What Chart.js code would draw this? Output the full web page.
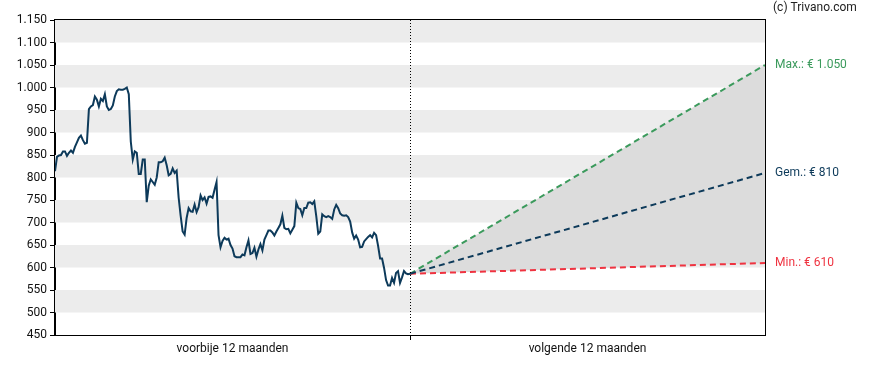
<!DOCTYPE html>
<html><head><meta charset="utf-8">
<script src="https://cdn.jsdelivr.net/npm/chart.js@4/dist/chart.umd.min.js"></script>
<style>html,body{margin:0;padding:0;background:#fff}#wrap{width:888px;height:370px}</style>
</head><body><div id="wrap"><canvas id="c"></canvas></div>
<script>
// Historical prices (past 12 months), evenly spaced
const histValues = [
814,846,849,850,858,858,848,855,860,855,868,878,888,893,883,875,877,952,958,961,
980,973,958,975,970,985,958,950,952,960,980,992,996,995,995,997,1000,985,880,840,
858,855,808,808,840,840,745,782,796,790,784,800,834,834,836,844,827,805,808,820,
810,815,755,715,680,673,710,732,725,724,740,723,734,760,750,756,742,757,758,755,
773,790,672,645,659,666,662,664,650,642,625,623,623,623,629,627,645,660,630,632,
644,624,640,652,638,662,672,682,682,678,671,680,688,696,715,688,685,686,676,684,
692,744,732,730,716,732,732,744,745,741,747,714,675,680,718,714,712,714,712,708,
729,739,732,720,716,715,716,712,702,678,664,671,662,645,646,658,663,668,672,667,
677,672,648,620,620,599,572,560,560,577,566,588,592,566,578,592,587,585,586
];
// Forecast (next 12 months): start, end
const forecastMax = [586, 1050];
const forecastAvg = [586, 810];
const forecastMin = [586, 610];
const forecastLabels = ['Max.: € 1.050', 'Gem.: € 810', 'Min.: € 610'];
const xTickLabels = ['voorbije 12 maanden', '', 'volgende 12 maanden'];
const yMin = 450, yMax = 1150, yStep = 50;
const bandStarts = [500, 600, 700, 800, 900, 1000, 1100];
const bandWidth = 50;
const copyright = '(c) Trivano.com';

const NAVY = '#0d3a5a', GREEN = '#3b9a5c', RED = '#ef3340';
const FONT = 'Roboto, "Liberation Sans", Arial, sans-serif';

const fmt = v => String(v).replace(/\B(?=(\d{3})+(?!\d))/g, '.');

const histData = histValues.map((v, i) => ({x: i / (histValues.length - 1), y: v}));
const fc = arr => arr.map((v, i) => ({x: 1 + i, y: v}));

const decor = {
  id: 'decor',
  beforeDatasetsDraw(chart) {
    const {ctx, chartArea: a, scales: {y}} = chart;
    ctx.save();
    ctx.fillStyle = '#ececec';
    bandStarts.forEach(b => {
      const y1 = y.getPixelForValue(b + bandWidth), y2 = y.getPixelForValue(b);
      ctx.fillRect(a.left, y1, a.right - a.left, y2 - y1);
    });
    ctx.restore();
  },
  afterDatasetsDraw(chart) {
    const {ctx, chartArea: a, scales: {x, y}} = chart;
    ctx.save();
    // dotted divider
    const xm = Math.round(x.getPixelForValue(1)) + 0.5;
    ctx.strokeStyle = '#000'; ctx.lineWidth = 1;
    ctx.setLineDash([1, 2]);
    ctx.beginPath(); ctx.moveTo(xm, a.top); ctx.lineTo(xm, a.bottom); ctx.stroke();
    ctx.setLineDash([]);
    // frame
    ctx.strokeRect(Math.round(a.left) - 0.5, Math.round(a.top) - 0.5, Math.round(a.right - a.left) + 1, Math.round(a.bottom - a.top) + 1);
    // right labels
    ctx.font = '12px ' + FONT;
    ctx.textBaseline = 'middle'; ctx.textAlign = 'left';
    const vals = [forecastMax[1], forecastAvg[1], forecastMin[1]];
    const cols = [GREEN, NAVY, RED];
    vals.forEach((v, i) => {
      ctx.fillStyle = cols[i];
      ctx.fillText(forecastLabels[i], a.right + 10, y.getPixelForValue(v));
    });
    ctx.fillStyle = '#222';
    ctx.fillText(copyright, a.right + 8, 8);
    ctx.restore();
  }
};

new Chart(document.getElementById('c'), {
  type: 'line',
  data: {
    datasets: [
      {data: histData, borderColor: NAVY, borderWidth: 2, pointRadius: 0, tension: 0, fill: false, order: 0},
      {data: fc(forecastMax), borderColor: GREEN, borderWidth: 2, borderDash: [6, 4], pointRadius: 0, fill: '+2', backgroundColor: '#dcdcdc', order: 3},
      {data: fc(forecastAvg), borderColor: NAVY, borderWidth: 2, borderDash: [6, 4], pointRadius: 0, fill: false, order: 1},
      {data: fc(forecastMin), borderColor: RED, borderWidth: 2, borderDash: [6, 4], pointRadius: 0, fill: false, order: 2}
    ]
  },
  options: {
    responsive: true, maintainAspectRatio: false, animation: false,
    layout: {padding: {top: 20, right: 123, bottom: 0, left: 0}},
    plugins: {legend: {display: false}, tooltip: {enabled: false}},
    scales: {
      x: {
        type: 'linear', min: 0, max: 2,
        afterBuildTicks: s => { s.ticks = [{value: 0.5}, {value: 1}, {value: 1.5}]; },
        afterFit: s => { s.height = 35; },
        ticks: {callback: (v, i) => xTickLabels[i], color: '#111', font: {family: FONT, size: 12}, padding: 2, maxRotation: 0, autoSkip: false},
        grid: {drawOnChartArea: false, tickLength: 5, tickColor: c => (c.tick && c.tick.value === 1) ? '#000' : 'rgba(0,0,0,0)'},
        border: {color: '#000'}
      },
      y: {
        min: yMin, max: yMax,
        afterBuildTicks: s => { const t = []; for (let v = yMin; v <= yMax; v += yStep) t.push({value: v}); s.ticks = t; },
        afterFit: s => { s.width = 55; },
        ticks: {callback: v => fmt(v), color: '#111', font: {family: FONT, size: 12}, padding: 3},
        grid: {drawOnChartArea: false, tickLength: 5, tickColor: '#000'},
        border: {color: '#000'}
      }
    }
  },
  plugins: [decor]
});
</script></body></html>
